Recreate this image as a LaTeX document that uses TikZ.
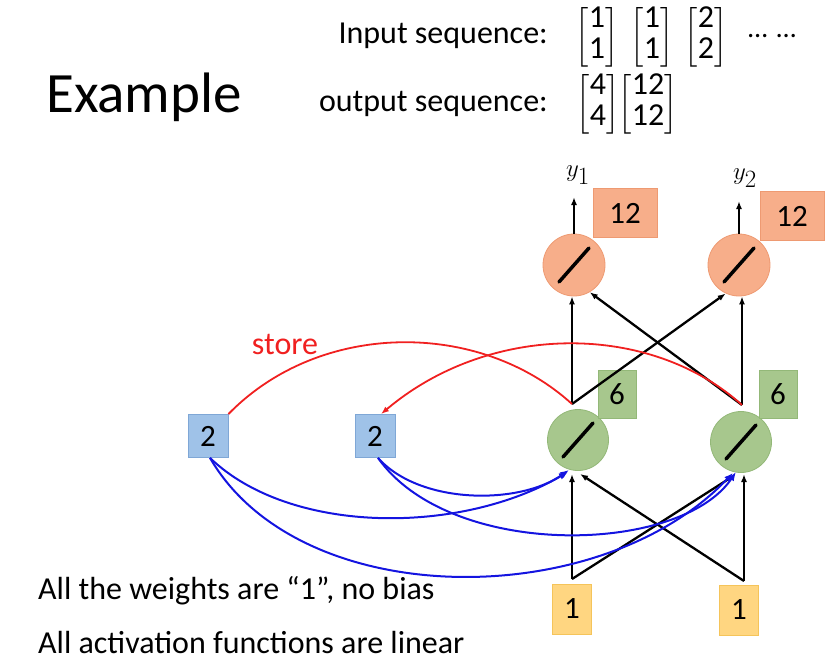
\documentclass[tikz,border=0pt]{standalone}
\usepackage{amsmath}
\usepackage{fontspec}
\setmainfont{Carlito}
\usetikzlibrary{arrows.meta,calc}
\definecolor{cellblue}{HTML}{9FC2E8}
\definecolor{cellblueline}{HTML}{7FA7D6}
\definecolor{hidgreen}{HTML}{A7C78D}
\definecolor{hidgreenline}{HTML}{93B878}
\definecolor{outorange}{HTML}{F7AE8A}
\definecolor{outorangeline}{HTML}{EE9A72}
\definecolor{inyellow}{HTML}{FFD681}
\definecolor{inyellowline}{HTML}{F5C45A}
\definecolor{storered}{HTML}{F02020}
\definecolor{wireblue}{HTML}{1414E0}

\newcommand{\colvec}[2]{{\renewcommand{\arraystretch}{0.85}$\left[\begin{array}{@{}c@{}}\text{#1}\\\text{#2}\end{array}\right]$}}

\begin{document}
\begin{tikzpicture}[x=1pt,y=-1pt,
    numbox/.style={draw,line width=0.8pt,inner sep=0pt,font=\fontsize{31}{33}\selectfont},
    memcell/.style={numbox,fill=cellblue,draw=cellblueline,minimum width=40,minimum height=43},
    hidval/.style={numbox,fill=hidgreen,draw=hidgreenline,minimum width=38,minimum height=48},
    outval/.style={numbox,fill=outorange,draw=outorangeline,minimum width=64,minimum height=49},
    inval/.style={numbox,fill=inyellow,draw=inyellowline,minimum width=39,minimum height=50},
    hidunit/.style={circle,fill=hidgreen,draw=hidgreenline,line width=0.8pt,minimum size=61},
    outunit/.style={circle,fill=outorange,draw=outorangeline,line width=0.8pt,minimum size=62},
    slash/.style={line width=3.5pt,line cap=round},
    wire/.style={line width=2.3pt,-{Latex[length=8pt,width=6pt]}},
    bluewire/.style={wireblue,line width=2pt,-{Latex[length=9pt,width=7pt]}},
    redwire/.style={storered,line width=1.8pt},
    txt/.style={inner sep=0pt,font=\fontsize{32}{34}\selectfont},
    vec/.style={inner sep=0pt,font=\fontsize{32}{36}\selectfont}]
  \useasboundingbox (0,0) rectangle (836,657);

  % title and sequences
  \node[anchor=base west,inner sep=0pt,font=\fontsize{57}{60}\selectfont] (title) at (46,112) {Example};
  \node[txt,anchor=base east] (inlbl) at (548,43) {Input sequence:};
  \node[txt,anchor=base east] (outlbl) at (548,111) {output sequence:};
  \node[vec] (x1) at (597,37) {\colvec{1}{1}};
  \node[vec] (x2) at (652,37) {\colvec{1}{1}};
  \node[vec] (x3) at (706,37) {\colvec{2}{2}};
  \node[inner sep=0pt,font=\fontsize{28}{30}\selectfont,anchor=base west] (dots) at (748,37) {…\hspace{9pt}…};
  \node[vec] (y1v) at (598,104) {\colvec{4}{4}};
  \node[vec] (y2v) at (648,104) {\colvec{12}{12}};

  % units
  \node[outunit] (o1) at (574,265) {};
  \node[outunit] (o2) at (739,265) {};
  \node[hidunit] (g1) at (578,440) {};
  \node[hidunit] (g2) at (741,442) {};
  \foreach \u in {o1,o2,g1,g2}
    \draw[slash] ($(\u.center)+(-15,17)$) -- ($(\u.center)+(15,-17)$);

  \node[outval] (ov1) at (625,213) {12};
  \node[outval] (ov2) at (792,216) {12};
  \node[hidval] (hv1) at (617,394) {6};
  \node[hidval] (hv2) at (778,394) {6};
  \node[memcell] (m1) at (208,436) {2};
  \node[memcell] (m2) at (375,436) {2};
  \node[inval] (in1) at (572,609) {1};
  \node[inval] (in2) at (739,610) {1};

  \node[font=\fontsize{38}{40}\selectfont] (y1) at (578,175) {$y_1$};
  \node[font=\fontsize{38}{40}\selectfont] (y2) at (745,178) {$y_2$};

  \coordinate (v1) at (572,404);
  \coordinate (v2) at (742,405);
  \coordinate (u1) at (572,579);
  \coordinate (u2) at (744,581);

  % outputs
  \draw[wire] (o1.north) -- (o1.north |- 0,197);
  \draw[wire] (o2.north) -- (o2.north |- 0,201);

  % hidden -> output
  \draw[wire] (v1) -- (v1 |- o1.south);
  \draw[wire] (v1) -- (o2.245);
  \draw[wire] (v2) -- (v2 |- o2.south);
  \draw[wire] (v2) -- (o1.300);

  % input -> hidden
  \draw[wire] (u1) -- (u1 |- 0,474);
  \draw[wire] (u1) -- ($(g2.south)+(-6,2)$);
  \draw[wire] (u2) -- (u2 |- 0,474);
  \draw[wire] (u2) -- ($(g1.south)+(2,3)$);

  % store
  \draw[redwire] (v1) .. controls (480,320) and (320,320) .. (m1.north east);
  \draw[redwire,-{Latex[length=8pt,width=6pt]}] (v2) .. controls (650,322) and (490,322) .. ($(m2.north)+(6,0)$);
  \node[storered,font=\fontsize{32}{34}\selectfont] (store) at (285,344) {store};

  % memory -> hidden
  \draw[bluewire] ($(m1.south)+(2,0)$) .. controls (290,535) and (460,535) .. ($(g1.south)+(-10,1)$);
  \draw[bluewire] ($(m1.south)+(2,0)$) .. controls (300,613) and (600,613) .. ($(g2.south)+(-8,0)$);
  \draw[bluewire] ($(m2.south)+(3,0)$) .. controls (420,505) and (520,505) .. ($(g1.south)+(-9,-1)$);
  \draw[bluewire] ($(m2.south)+(3,0)$) .. controls (450,560) and (680,555) .. ($(g2.south)+(-5,-1)$);

  % notes
  \node[txt,anchor=base west] (note1) at (38,599) {All the weights are “1”, no bias};
  \node[txt,anchor=base west] (note2) at (38,653) {All activation functions are linear};
\end{tikzpicture}
\end{document}
